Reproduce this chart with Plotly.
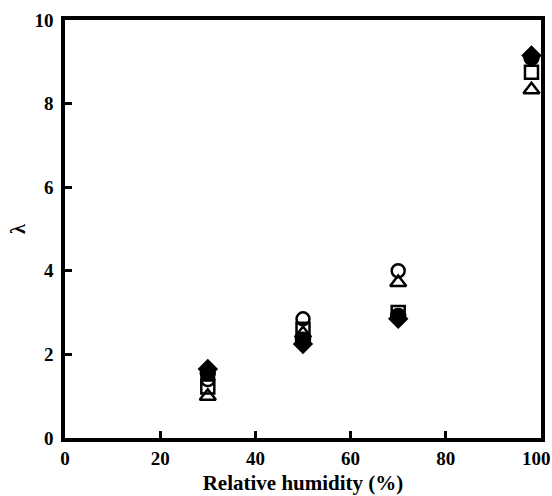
import plotly.graph_objects as go

rh = [30, 50, 70, 98]
filled_diamond = [1.65, 2.25, 2.85, 9.15]
filled_circle = [1.55, 2.35, 2.92, 9.1]
open_square = [1.22, 2.6, 3.0, 8.75]
open_circle = [1.4, 2.85, 4.0, 9.1]
open_triangle = [1.0, 2.5, 3.72, 8.33]

x_ticks = [0, 20, 40, 60, 80, 100]
x_ticklabels = ["<b>0</b>", "<b>20</b>", "<b>40</b>", "<b>60</b>", "<b>80</b>", "<b>100</b>&nbsp;&nbsp;"]
y_ticks = [0, 2, 4, 6, 8, 10]
y_ticklabels = ["<b>0</b>", "<b>2</b>", "<b>4</b>", "<b>6</b>", "<b>8</b>", "<b>10</b>"]

series = [
    ("open triangle", open_triangle, "triangle-up-open", 14),
    ("open square", open_square, "square-open", 13),
    ("open circle", open_circle, "circle-open", 13),
    ("filled circle", filled_circle, "circle", 14),
    ("filled diamond", filled_diamond, "diamond", 13),
]

fig = go.Figure()
for name, ys, sym, sz in series:
    fig.add_trace(go.Scatter(
        x=rh, y=ys, mode="markers", name=name,
        marker=dict(symbol=sym, size=sz, color="black",
                    line=dict(color="black", width=2.5)),
    ))

font_family = "Liberation Serif, Times New Roman, serif"
fig.update_layout(
    width=552, height=496,
    margin=dict(l=65, r=11, t=20, b=58, autoexpand=False),
    paper_bgcolor="white", plot_bgcolor="white",
    showlegend=False,
    font=dict(family=font_family, color="black"),
)
fig.update_xaxes(
    range=[0, 100], tickvals=x_ticks, ticktext=x_ticklabels,
    ticks="inside", ticklen=7, tickwidth=3, tickcolor="black",
    showline=True, linewidth=3.5, linecolor="black", mirror=True,
    showgrid=False, zeroline=False, automargin=False,
    ticklabeloverflow="allow",
    tickfont=dict(size=19, family=font_family),
    title=dict(text="<b>Relative humidity (%)</b>", font=dict(size=21, family=font_family), standoff=9),
)
fig.update_yaxes(
    range=[0, 10], tickvals=y_ticks, ticktext=y_ticklabels,
    ticks="inside", ticklen=7, tickwidth=3, tickcolor="black",
    showline=True, linewidth=3.5, linecolor="black", mirror=True,
    showgrid=False, zeroline=False, automargin=False,
    tickfont=dict(size=19, family=font_family),
    ticklabelstandoff=4,
    title=dict(text="<b>λ</b>", font=dict(size=20, family=font_family), standoff=4),
)
fig.write_html("out.html")
